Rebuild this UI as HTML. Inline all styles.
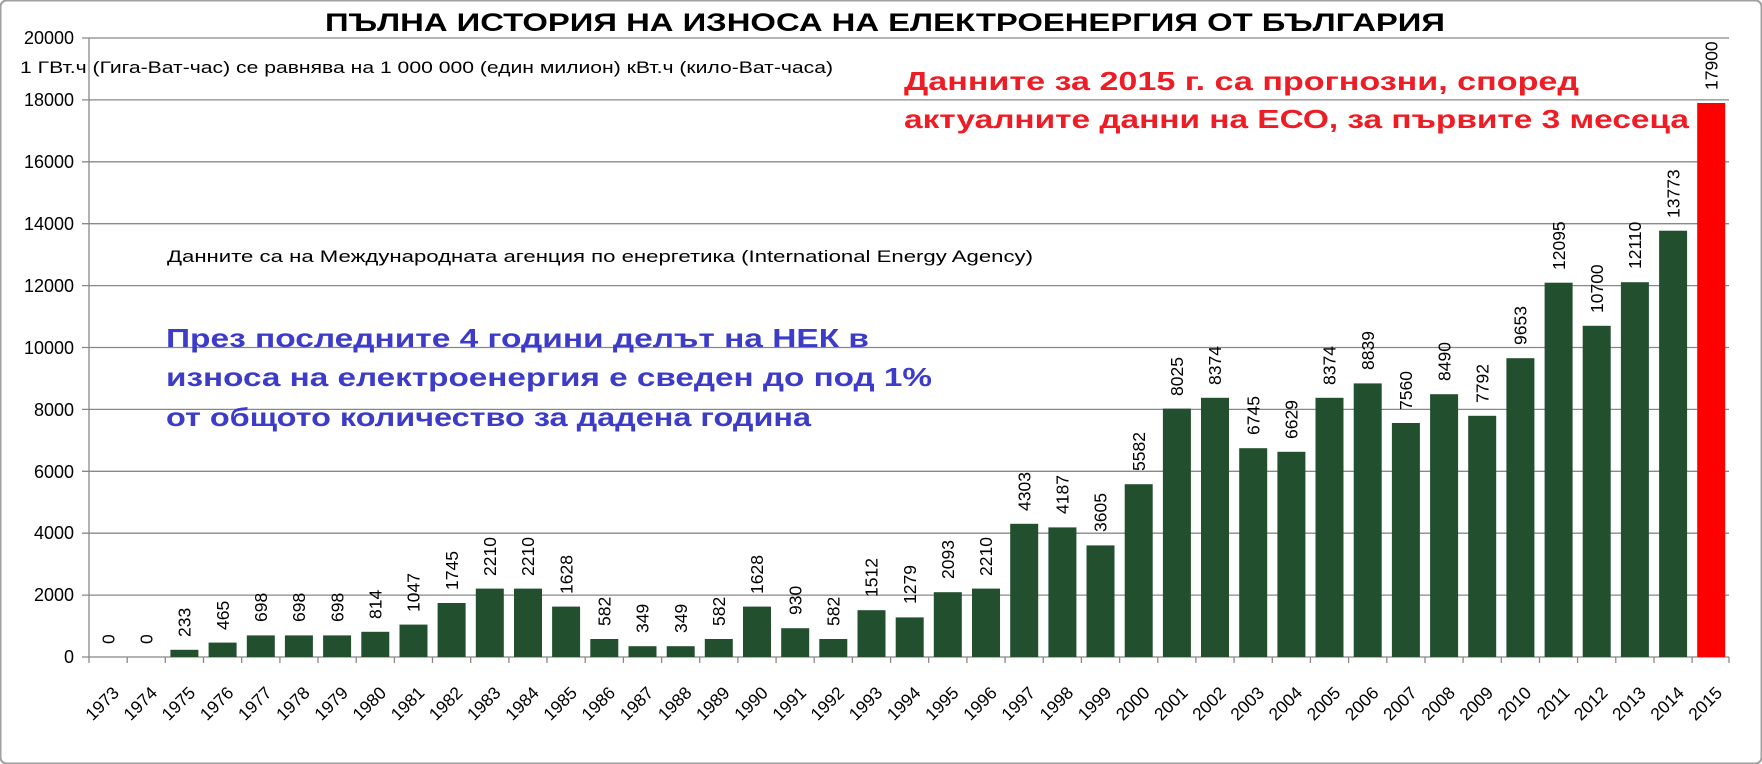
<!DOCTYPE html>
<html><head><meta charset="utf-8"><style>
html,body{margin:0;padding:0;background:#fff}
svg{display:block}
text{font-family:"Liberation Sans","DejaVu Sans",sans-serif}
</style></head><body>
<svg width="1762" height="764" viewBox="0 0 1762 764" xmlns="http://www.w3.org/2000/svg">
<rect x="0.5" y="0.5" width="1761" height="763" fill="#fff" stroke="#a0a0a0" stroke-width="2" rx="6"/>
<g stroke="#888" stroke-width="1.3">
<line x1="82" y1="38" x2="1729" y2="38"/>
<line x1="82" y1="99.9" x2="1729" y2="99.9"/>
<line x1="82" y1="161.8" x2="1729" y2="161.8"/>
<line x1="82" y1="223.7" x2="1729" y2="223.7"/>
<line x1="82" y1="285.6" x2="1729" y2="285.6"/>
<line x1="82" y1="347.5" x2="1729" y2="347.5"/>
<line x1="82" y1="409.4" x2="1729" y2="409.4"/>
<line x1="82" y1="471.3" x2="1729" y2="471.3"/>
<line x1="82" y1="533.2" x2="1729" y2="533.2"/>
<line x1="82" y1="595.1" x2="1729" y2="595.1"/>
<line x1="82" y1="657" x2="1729" y2="657"/>
<line x1="89" y1="38" x2="89" y2="663"/>
</g>
<g font-size="18" fill="#000" text-anchor="end">
<text x="74" y="44">20000</text><text x="74" y="106">18000</text><text x="74" y="168">16000</text>
<text x="74" y="230">14000</text><text x="74" y="292">12000</text><text x="74" y="354">10000</text>
<text x="74" y="416">8000</text><text x="74" y="478">6000</text><text x="74" y="539">4000</text>
<text x="74" y="601">2000</text><text x="74" y="663">0</text>
</g>
<g transform="translate(0,657) scale(1,-1)" fill="#22502f">
<rect x="170.4" y="0" width="28" height="7.2"/><rect x="208.6" y="0" width="28" height="14.4"/>
<rect x="246.8" y="0" width="28" height="21.6"/><rect x="284.9" y="0" width="28" height="21.6"/>
<rect x="323.1" y="0" width="28" height="21.6"/><rect x="361.3" y="0" width="28" height="25.2"/>
<rect x="399.5" y="0" width="28" height="32.4"/><rect x="437.6" y="0" width="28" height="54"/>
<rect x="475.8" y="0" width="28" height="68.4"/><rect x="514" y="0" width="28" height="68.4"/>
<rect x="552.1" y="0" width="28" height="50.4"/><rect x="590.3" y="0" width="28" height="18"/>
<rect x="628.5" y="0" width="28" height="10.8"/><rect x="666.7" y="0" width="28" height="10.8"/>
<rect x="704.8" y="0" width="28" height="18"/><rect x="743" y="0" width="28" height="50.4"/>
<rect x="781.2" y="0" width="28" height="28.8"/><rect x="819.3" y="0" width="28" height="18"/>
<rect x="857.5" y="0" width="28" height="46.8"/><rect x="895.7" y="0" width="28" height="39.6"/>
<rect x="933.8" y="0" width="28" height="64.8"/><rect x="972" y="0" width="28" height="68.4"/>
<rect x="1010.2" y="0" width="28" height="133.2"/><rect x="1048.4" y="0" width="28" height="129.6"/>
<rect x="1086.5" y="0" width="28" height="111.6"/><rect x="1124.7" y="0" width="28" height="172.8"/>
<rect x="1162.9" y="0" width="28" height="248.4"/><rect x="1201" y="0" width="28" height="259.2"/>
<rect x="1239.2" y="0" width="28" height="208.8"/><rect x="1277.4" y="0" width="28" height="205.2"/>
<rect x="1315.5" y="0" width="28" height="259.2"/><rect x="1353.7" y="0" width="28" height="273.6"/>
<rect x="1391.9" y="0" width="28" height="234"/><rect x="1430.1" y="0" width="28" height="262.8"/>
<rect x="1468.2" y="0" width="28" height="241.2"/><rect x="1506.4" y="0" width="28" height="298.8"/>
<rect x="1544.6" y="0" width="28" height="374.3"/><rect x="1582.7" y="0" width="28" height="331.2"/>
<rect x="1620.9" y="0" width="28" height="374.8"/><rect x="1659.1" y="0" width="28" height="426.3"/>
<rect x="1697.2" y="0" width="28" height="554" fill="#ff0000"/>
</g>
<g stroke="#888" stroke-width="1.3">
<line x1="127.2" y1="657" x2="127.2" y2="663"/><line x1="165.3" y1="657" x2="165.3" y2="663"/><line x1="203.5" y1="657" x2="203.5" y2="663"/><line x1="241.7" y1="657" x2="241.7" y2="663"/><line x1="279.9" y1="657" x2="279.9" y2="663"/><line x1="318" y1="657" x2="318" y2="663"/><line x1="356.2" y1="657" x2="356.2" y2="663"/><line x1="394.4" y1="657" x2="394.4" y2="663"/><line x1="432.5" y1="657" x2="432.5" y2="663"/><line x1="470.7" y1="657" x2="470.7" y2="663"/><line x1="508.9" y1="657" x2="508.9" y2="663"/><line x1="547" y1="657" x2="547" y2="663"/><line x1="585.2" y1="657" x2="585.2" y2="663"/><line x1="623.4" y1="657" x2="623.4" y2="663"/><line x1="661.6" y1="657" x2="661.6" y2="663"/><line x1="699.7" y1="657" x2="699.7" y2="663"/><line x1="737.9" y1="657" x2="737.9" y2="663"/><line x1="776.1" y1="657" x2="776.1" y2="663"/><line x1="814.2" y1="657" x2="814.2" y2="663"/><line x1="852.4" y1="657" x2="852.4" y2="663"/><line x1="890.6" y1="657" x2="890.6" y2="663"/><line x1="928.7" y1="657" x2="928.7" y2="663"/><line x1="966.9" y1="657" x2="966.9" y2="663"/><line x1="1005.1" y1="657" x2="1005.1" y2="663"/><line x1="1043.3" y1="657" x2="1043.3" y2="663"/><line x1="1081.4" y1="657" x2="1081.4" y2="663"/><line x1="1119.6" y1="657" x2="1119.6" y2="663"/><line x1="1157.8" y1="657" x2="1157.8" y2="663"/><line x1="1195.9" y1="657" x2="1195.9" y2="663"/><line x1="1234.1" y1="657" x2="1234.1" y2="663"/><line x1="1272.3" y1="657" x2="1272.3" y2="663"/><line x1="1310.4" y1="657" x2="1310.4" y2="663"/><line x1="1348.6" y1="657" x2="1348.6" y2="663"/><line x1="1386.8" y1="657" x2="1386.8" y2="663"/><line x1="1425" y1="657" x2="1425" y2="663"/><line x1="1463.1" y1="657" x2="1463.1" y2="663"/><line x1="1501.3" y1="657" x2="1501.3" y2="663"/><line x1="1539.5" y1="657" x2="1539.5" y2="663"/><line x1="1577.6" y1="657" x2="1577.6" y2="663"/><line x1="1615.8" y1="657" x2="1615.8" y2="663"/><line x1="1654" y1="657" x2="1654" y2="663"/><line x1="1692.1" y1="657" x2="1692.1" y2="663"/><line x1="1729" y1="657" x2="1729" y2="663"/>
</g>
<g font-size="17.5" fill="#000">
<text transform="translate(114.3,644) rotate(-90)">0</text>
<text transform="translate(152.5,644) rotate(-90)">0</text>
<text transform="translate(190.6,637) rotate(-90)">233</text>
<text transform="translate(228.8,630) rotate(-90)">465</text>
<text transform="translate(267,622) rotate(-90)">698</text>
<text transform="translate(305.1,622) rotate(-90)">698</text>
<text transform="translate(343.3,622) rotate(-90)">698</text>
<text transform="translate(381.5,619) rotate(-90)">814</text>
<text transform="translate(419.7,612) rotate(-90)">1047</text>
<text transform="translate(457.8,590) rotate(-90)">1745</text>
<text transform="translate(496,576) rotate(-90)">2210</text>
<text transform="translate(534.2,576) rotate(-90)">2210</text>
<text transform="translate(572.3,594) rotate(-90)">1628</text>
<text transform="translate(610.5,626) rotate(-90)">582</text>
<text transform="translate(648.7,633) rotate(-90)">349</text>
<text transform="translate(686.9,633) rotate(-90)">349</text>
<text transform="translate(725,626) rotate(-90)">582</text>
<text transform="translate(763.2,594) rotate(-90)">1628</text>
<text transform="translate(801.4,615) rotate(-90)">930</text>
<text transform="translate(839.5,626) rotate(-90)">582</text>
<text transform="translate(877.7,597) rotate(-90)">1512</text>
<text transform="translate(915.9,604) rotate(-90)">1279</text>
<text transform="translate(954,579) rotate(-90)">2093</text>
<text transform="translate(992.2,576) rotate(-90)">2210</text>
<text transform="translate(1030.4,511) rotate(-90)">4303</text>
<text transform="translate(1068.6,514) rotate(-90)">4187</text>
<text transform="translate(1106.7,532) rotate(-90)">3605</text>
<text transform="translate(1144.9,471) rotate(-90)">5582</text>
<text transform="translate(1183.1,396) rotate(-90)">8025</text>
<text transform="translate(1221.2,385) rotate(-90)">8374</text>
<text transform="translate(1259.4,435) rotate(-90)">6745</text>
<text transform="translate(1297.6,439) rotate(-90)">6629</text>
<text transform="translate(1335.7,385) rotate(-90)">8374</text>
<text transform="translate(1373.9,370) rotate(-90)">8839</text>
<text transform="translate(1412.1,410) rotate(-90)">7560</text>
<text transform="translate(1450.3,381) rotate(-90)">8490</text>
<text transform="translate(1488.4,403) rotate(-90)">7792</text>
<text transform="translate(1526.6,345) rotate(-90)">9653</text>
<text transform="translate(1564.8,270) rotate(-90)">12095</text>
<text transform="translate(1602.9,313) rotate(-90)">10700</text>
<text transform="translate(1641.1,269) rotate(-90)">12110</text>
<text transform="translate(1679.3,218) rotate(-90)">13773</text>
<text transform="translate(1717.4,90) rotate(-90)">17900</text>
</g>
<g font-size="17.5" fill="#000" text-anchor="end">
<text transform="translate(120.1,694) rotate(-45)">1973</text><text transform="translate(158.3,694) rotate(-45)">1974</text><text transform="translate(196.4,694) rotate(-45)">1975</text><text transform="translate(234.6,694) rotate(-45)">1976</text><text transform="translate(272.8,694) rotate(-45)">1977</text><text transform="translate(310.9,694) rotate(-45)">1978</text><text transform="translate(349.1,694) rotate(-45)">1979</text><text transform="translate(387.3,694) rotate(-45)">1980</text><text transform="translate(425.5,694) rotate(-45)">1981</text><text transform="translate(463.6,694) rotate(-45)">1982</text><text transform="translate(501.8,694) rotate(-45)">1983</text><text transform="translate(540,694) rotate(-45)">1984</text><text transform="translate(578.1,694) rotate(-45)">1985</text><text transform="translate(616.3,694) rotate(-45)">1986</text><text transform="translate(654.5,694) rotate(-45)">1987</text><text transform="translate(692.7,694) rotate(-45)">1988</text><text transform="translate(730.8,694) rotate(-45)">1989</text><text transform="translate(769,694) rotate(-45)">1990</text><text transform="translate(807.2,694) rotate(-45)">1991</text><text transform="translate(845.3,694) rotate(-45)">1992</text><text transform="translate(883.5,694) rotate(-45)">1993</text><text transform="translate(921.7,694) rotate(-45)">1994</text><text transform="translate(959.8,694) rotate(-45)">1995</text><text transform="translate(998,694) rotate(-45)">1996</text><text transform="translate(1036.2,694) rotate(-45)">1997</text><text transform="translate(1074.4,694) rotate(-45)">1998</text><text transform="translate(1112.5,694) rotate(-45)">1999</text><text transform="translate(1150.7,694) rotate(-45)">2000</text><text transform="translate(1188.9,694) rotate(-45)">2001</text><text transform="translate(1227,694) rotate(-45)">2002</text><text transform="translate(1265.2,694) rotate(-45)">2003</text><text transform="translate(1303.4,694) rotate(-45)">2004</text><text transform="translate(1341.5,694) rotate(-45)">2005</text><text transform="translate(1379.7,694) rotate(-45)">2006</text><text transform="translate(1417.9,694) rotate(-45)">2007</text><text transform="translate(1456.1,694) rotate(-45)">2008</text><text transform="translate(1494.2,694) rotate(-45)">2009</text><text transform="translate(1532.4,694) rotate(-45)">2010</text><text transform="translate(1570.6,694) rotate(-45)">2011</text><text transform="translate(1608.7,694) rotate(-45)">2012</text><text transform="translate(1646.9,694) rotate(-45)">2013</text><text transform="translate(1685.1,694) rotate(-45)">2014</text><text transform="translate(1723.2,694) rotate(-45)">2015</text>
</g>
<text x="325" y="31" font-size="25" font-weight="bold" textLength="1120" lengthAdjust="spacingAndGlyphs">ПЪЛНА ИСТОРИЯ НА ИЗНОСА НА ЕЛЕКТРОЕНЕРГИЯ ОТ БЪЛГАРИЯ</text>
<text x="20" y="73" font-size="17" textLength="813" lengthAdjust="spacingAndGlyphs">1 ГВт.ч (Гига-Ват-час) се равнява на 1 000 000 (един милион) кВт.ч (кило-Ват-часа)</text>
<g fill="#ee1c25" font-size="26" font-weight="bold">
<text x="904" y="90" textLength="675" lengthAdjust="spacingAndGlyphs">Данните за 2015 г. са прогнозни, според</text>
<text x="904" y="128" textLength="785" lengthAdjust="spacingAndGlyphs">актуалните данни на ЕСО, за първите 3 месеца</text>
</g>
<text x="167" y="262" font-size="17" textLength="866" lengthAdjust="spacingAndGlyphs">Данните са на Международната агенция по енергетика (International Energy Agency)</text>
<g fill="#3c3cc8" font-size="26" font-weight="bold">
<text x="166" y="347" textLength="703" lengthAdjust="spacingAndGlyphs">През последните 4 години делът на НЕК в</text>
<text x="166" y="386" textLength="766" lengthAdjust="spacingAndGlyphs">износа на електроенергия е сведен до под 1%</text>
<text x="166" y="426" textLength="645" lengthAdjust="spacingAndGlyphs">от общото количество за дадена година</text>
</g>
</svg>
</body></html>
